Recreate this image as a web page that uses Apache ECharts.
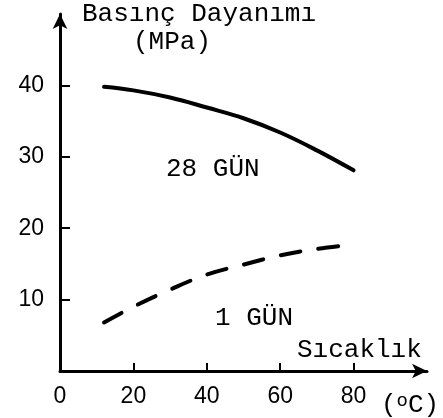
<!DOCTYPE html>
<html>
<head>
<meta charset="utf-8">
<script src="https://cdn.jsdelivr.net/npm/echarts@6/dist/echarts.min.js"></script>
<style>
  html, body { margin: 0; padding: 0; background: #fff; }
  #chart { width: 443px; height: 418px; }
</style>
</head>
<body>
<div id="chart"></div>
<script>
// sıcaklık (°C)
const temps = [12, 20, 30, 40, 50, 60, 70, 80]
// basınç dayanımı (MPa)
const gun28 = [39.8, 39.3, 38.3, 36.9, 35.4, 33.4, 30.9, 28.1]
const gun1 = [6.8, 9.0, 11.4, 13.5, 14.9, 16.2, 17.1, 17.7]
const xTicks = [20, 40, 60, 80]
const xLabels = [0, 20, 40, 60, 80]
const yTicks = [10, 20, 30, 40]

const mono = 'Liberation Mono'
const sans = 'Liberation Sans'
const typeFont = '26px "Liberation Mono"'

let chart = echarts.init(document.getElementById('chart'))
let option = {
  animation: false,
  grid: { left: 60, right: 16, top: 14, bottom: 47 },
  xAxis: {
    type: 'value',
    min: 0, max: 100, interval: 20,
    splitLine: { show: false },
    axisLine: {
      lineStyle: { color: '#000', width: 3 },
      symbol: ['none', 'arrow'], symbolSize: [11, 15]
    },
    axisTick: { show: true, inside: true, length: 8, lineStyle: { color: '#000', width: 2 }, customValues: xTicks },
    axisLabel: { color: '#000', fontFamily: sans, fontSize: 23, margin: 14, customValues: xLabels }
  },
  yAxis: {
    type: 'value',
    min: 0, max: 50, interval: 10,
    splitLine: { show: false },
    axisLine: {
      lineStyle: { color: '#000', width: 3 },
      symbol: ['none', 'arrow'], symbolSize: [11, 15]
    },
    axisTick: { show: true, inside: true, length: 10, lineStyle: { color: '#000', width: 2 }, customValues: yTicks },
    axisLabel: { color: '#000', fontFamily: sans, fontSize: 23, margin: 16, customValues: yTicks }
  },
  series: [
    {
      name: '28 GÜN',
      type: 'line',
      smooth: 0.4,
      symbol: 'none',
      lineStyle: { color: '#000', width: 4, cap: 'round' },
      data: temps.map((t, i) => [t, gun28[i]])
    },
    {
      name: '1 GÜN',
      type: 'line',
      smooth: 0.4,
      symbol: 'none',
      lineStyle: { color: '#000', width: 4, type: [20, 18], cap: 'round' },
      data: temps.map((t, i) => [t, gun1[i]])
    }
  ],
  graphic: [
    { type: 'text', left: 82, top: 1, style: { text: 'Basınç Dayanımı', font: typeFont, fill: '#000' } },
    { type: 'text', left: 133, top: 29, style: { text: '(MPa)', font: typeFont, fill: '#000' } },
    { type: 'text', left: 166, top: 156, style: { text: '28 GÜN', font: typeFont, fill: '#000' } },
    { type: 'text', left: 215, top: 305, style: { text: '1 GÜN', font: typeFont, fill: '#000' } },
    { type: 'text', left: 297, top: 337, style: { text: 'Sıcaklık', font: typeFont, fill: '#000' } },
    {
      type: 'text', left: 381, top: 391,
      style: {
        text: '({s|o}C)',
        font: typeFont, fill: '#000',
        rich: { s: { fontSize: 19, fontFamily: mono, verticalAlign: 'top', padding: [0, 0, 10, 0] } }
      }
    }
  ]
}
chart.setOption(option)
</script>
</body>
</html>
